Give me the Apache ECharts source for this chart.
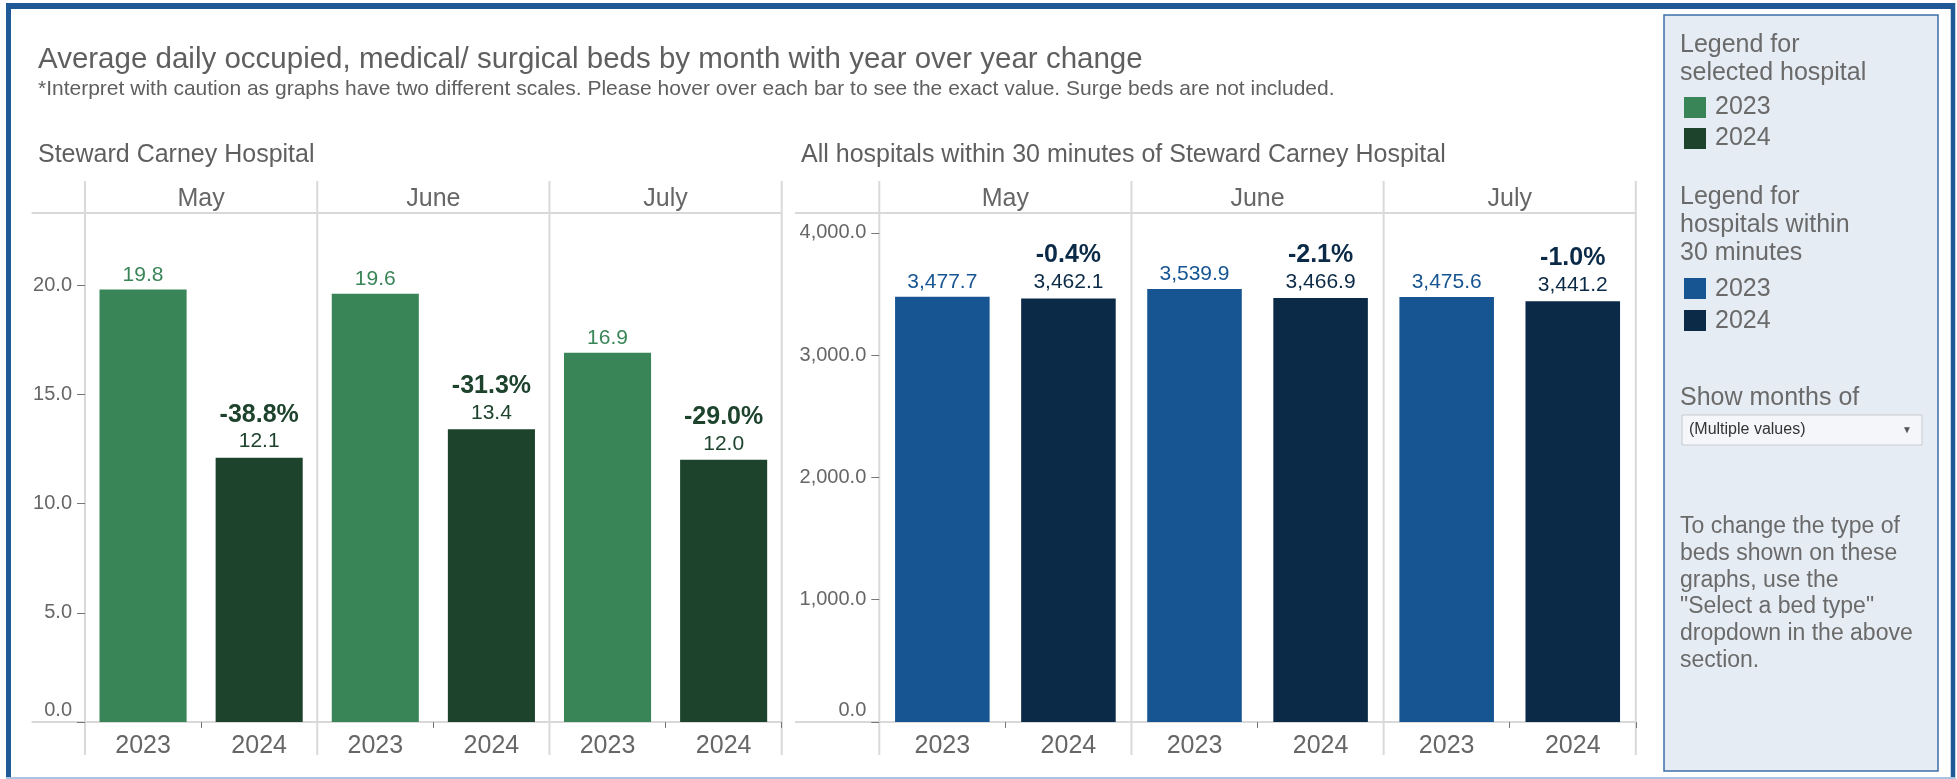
<!DOCTYPE html>
<html><head><meta charset="utf-8">
<script src="https://cdn.jsdelivr.net/npm/echarts@6/dist/echarts.min.js"></script>
<style>html,body{margin:0;padding:0;background:#fff}#c{width:1957px;height:779px}</style>
</head><body><div id="c"></div>
<script>
// ---------- data ----------
const months = ['May', 'June', 'July'];
const years = ['2023', '2024'];
const hosp2023 = [19.8, 19.6, 16.9];
const hosp2024 = [12.1, 13.4, 12.0];
const hospChange = [-38.8, -31.3, -29.0];
const area2023 = [3477.7, 3539.9, 3475.6];
const area2024 = [3462.1, 3466.9, 3441.2];
const areaChange = [-0.4, -2.1, -1.0];
const hospTicks = [0, 5, 10, 15, 20];
const areaTicks = [0, 1000, 2000, 3000, 4000];

// ---------- styling ----------
const FONT = '"Liberation Sans", Arial, sans-serif';
const G1 = '#3a8558', G2 = '#1d432d', B1 = '#175592', B2 = '#0b2a47';
const TXT = '#5f5f5f', AX = '#666666', LINE = '#d9d9d9';
const TOP = 213, BASE = 722, H = BASE - TOP;
const panes = [
  { left: 85, right: 781.7, lineStart: 31.6, max: 23.3, interval: 5 },
  { left: 879.3, right: 1635.8, lineStart: 795, max: 4162, interval: 1000 }
];

const xCats = months.flatMap(() => years);
const fmtL = v => v.toFixed(1);
const fmtR = v => v.toLocaleString('en-US', { minimumFractionDigits: 1, maximumFractionDigits: 1 });

function yAxis(i, ticks, fmt) {
  return {
    type: 'value', gridIndex: i, min: 0, max: panes[i].max, interval: panes[i].interval,
    axisLine: { show: false }, splitLine: { show: false },
    axisTick: { show: true, length: 8, customValues: ticks, lineStyle: { color: '#777', width: 1 } },
    axisLabel: {
      customValues: ticks, margin: 13, fontSize: 20, color: AX, fontFamily: FONT,
      formatter: v => v === 0 ? '{z|' + fmt(v) + '}' : fmt(v),
      rich: { z: { padding: [0, 0, 24, 0], fontSize: 20, color: AX, fontFamily: FONT } }
    }
  };
}
function xAxes(i) {
  return [{
    type: 'category', gridIndex: i, data: xCats, position: 'bottom',
    axisLine: { show: false },
    axisTick: { show: true, length: 6, interval: (idx) => idx % 2 === 1, lineStyle: { color: '#777' } },
    axisLabel: { fontSize: 25, color: AX, fontFamily: FONT, margin: 12, interval: 0 }
  }, {
    type: 'category', gridIndex: i, data: months, position: 'top',
    axisLine: { show: false }, axisTick: { show: false },
    axisLabel: { fontSize: 25, color: AX, fontFamily: FONT, margin: 1.5 }
  }];
}
function series(i, v23, v24, chg, c1, c2, fmt) {
  const d23 = months.flatMap((m, k) => [v23[k], '-']);
  const d24 = months.flatMap((m, k) => ['-', v24[k]]);
  return [{
    name: '2023', type: 'bar', xAxisIndex: i * 2, yAxisIndex: i, data: d23,
    barCategoryGap: '25%', barGap: '-100%', itemStyle: { color: c1 },
    label: { show: true, position: 'top', distance: 4, fontSize: 21, color: c1, fontFamily: FONT,
      formatter: p => fmt(p.value) }
  }, {
    name: '2024', type: 'bar', xAxisIndex: i * 2, yAxisIndex: i, data: d24,
    barCategoryGap: '25%', barGap: '-100%', itemStyle: { color: c2 },
    label: { show: true, position: 'top', distance: 3, fontFamily: FONT,
      formatter: p => '{p|' + chg[Math.floor(p.dataIndex / 2)].toFixed(1) + '%}\n{v|' + fmt(p.value) + '}',
      rich: {
        p: { fontSize: 25, fontWeight: 'bold', color: c2, lineHeight: 28, fontFamily: FONT },
        v: { fontSize: 21, color: c2, lineHeight: 26, fontFamily: FONT }
      } }
  }];
}

// pane structure lines
const gfx = [];
function line(x1, y1, x2, y2, color, w) {
  gfx.push({ type: 'line', z: -1, shape: { x1, y1, x2, y2 }, style: { stroke: color, lineWidth: w } });
}
panes.forEach(p => {
  line(p.lineStart, TOP, p.right, TOP, LINE, 2);
  line(p.lineStart, BASE, p.right, BASE, LINE, 2);
  const w = (p.right - p.left) / months.length;
  for (let k = 0; k <= months.length; k++) line(p.left + k * w, 181, p.left + k * w, 755, LINE, 2);
});
// outer frame
line(8.5, 3, 8.5, 779, '#1f5a96', 5);
line(6, 6, 1955, 6, '#1f5a96', 6);
line(1953, 3, 1953, 779, '#1f5a96', 4.5);
line(6, 778, 1955, 778, '#a8c4e0', 2);
// legend panel
gfx.push({ type: 'rect', z: -2, shape: { x: 1664, y: 15, width: 274, height: 756 },
  style: { fill: '#e6ecf3', stroke: '#3d6fa8', lineWidth: 1.5 } });
function txt(t, x, y, size, color, extra) {
  gfx.push({ type: 'text', x, y, style: Object.assign({ text: t, fontSize: size, fontFamily: FONT, fill: color, verticalAlign: 'middle', align: 'left' }, extra || {}) });
}
function sw(y, c) { gfx.push({ type: 'rect', shape: { x: 1684, y: y, width: 22, height: 21 }, style: { fill: c } }); }
const LG = '#6a6a6a';
txt('Legend for', 1680, 45, 25, LG);
txt('selected hospital', 1680, 73, 25, LG);
sw(97, G1); txt(years[0], 1715, 107, 25, LG);
sw(128, G2); txt(years[1], 1715, 138, 25, LG);
txt('Legend for', 1680, 197, 25, LG);
txt('hospitals within', 1680, 225, 25, LG);
txt('30 minutes', 1680, 253, 25, LG);
sw(278, B1); txt(years[0], 1715, 289, 25, LG);
sw(310, B2); txt(years[1], 1715, 321, 25, LG);
txt('Show months of', 1680, 398, 25, LG);
gfx.push({ type: 'rect', shape: { x: 1682, y: 415, width: 240, height: 30 }, style: { fill: '#f4f6f9', stroke: '#c6cbd1', lineWidth: 1 } });
txt('(Multiple values)', 1689, 430, 16, '#333');
txt('▼', 1907, 430, 10, '#555', { align: 'center' });
['To change the type of', 'beds shown on these', 'graphs, use the', '"Select a bed type"', 'dropdown in the above', 'section.']
  .forEach((t, k) => txt(t, 1680, 527 + k * 26.7, 23, LG));

const chart = echarts.init(document.getElementById('c'), null, { renderer: 'canvas' });
chart.setOption({
  animation: false,
  backgroundColor: '#fff',
  textStyle: { fontFamily: FONT },
  title: [
    { text: 'Average daily occupied, medical/ surgical beds by month with year over year change', left: 38, top: 45, padding: 0,
      textStyle: { fontSize: 29.5, fontWeight: 'normal', color: TXT, fontFamily: FONT } },
    { text: '*Interpret with caution as graphs have two different scales. Please hover over each bar to see the exact value. Surge beds are not included.', left: 38, top: 79, padding: 0,
      textStyle: { fontSize: 21, fontWeight: 'normal', color: TXT, fontFamily: FONT } },
    { text: 'Steward Carney Hospital', left: 38, top: 142.5, padding: 0,
      textStyle: { fontSize: 25, fontWeight: 'normal', color: TXT, fontFamily: FONT } },
    { text: 'All hospitals within 30 minutes of Steward Carney Hospital', left: 801, top: 142.5, padding: 0,
      textStyle: { fontSize: 25, fontWeight: 'normal', color: TXT, fontFamily: FONT } }
  ],
  grid: panes.map(p => ({ left: p.left, top: TOP, width: p.right - p.left, height: H, containLabel: false })),
  xAxis: [...xAxes(0), ...xAxes(1)],
  yAxis: [yAxis(0, hospTicks, fmtL), yAxis(1, areaTicks, fmtR)],
  series: [
    ...series(0, hosp2023, hosp2024, hospChange, G1, G2, fmtL),
    ...series(1, area2023, area2024, areaChange, B1, B2, fmtR)
  ],
  graphic: gfx
});
</script></body></html>
